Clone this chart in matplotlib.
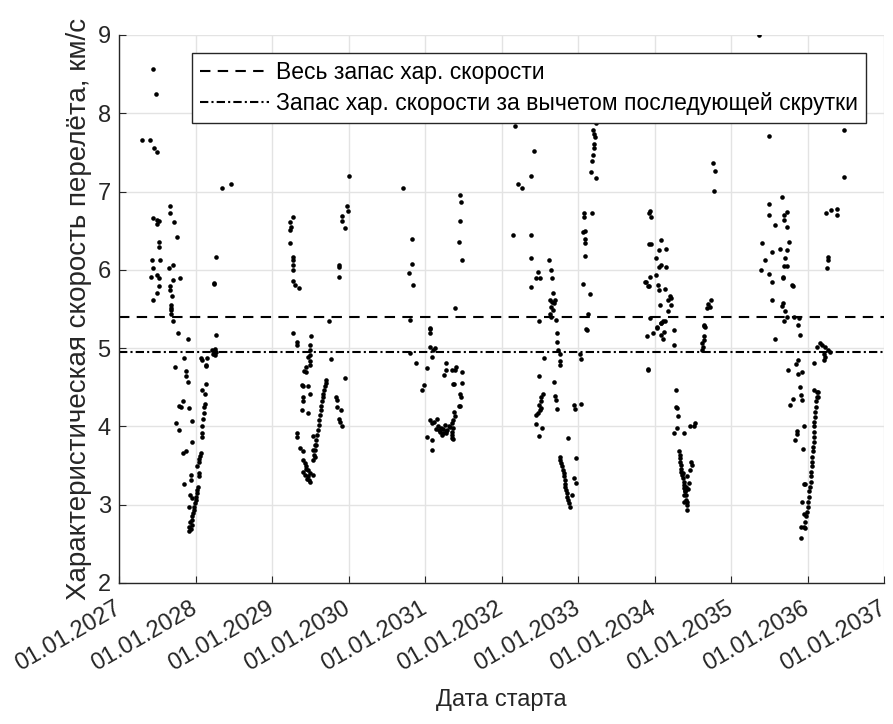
import matplotlib
matplotlib.use('Agg')
import matplotlib.pyplot as plt

plt.rcParams['font.family'] = ['Liberation Sans', 'DejaVu Sans']

# launch dates (decimal years) and characteristic velocity, km/s
x_2027 = [2027.45, 2027.48, 2027.30, 2027.41, 2027.46, 2027.50, 2028.35, 2028.46,
          2027.66, 2027.67, 2027.45, 2027.50, 2027.52, 2027.50, 2027.72, 2027.52, 2027.52,
          2027.76, 2027.43, 2027.54, 2027.44, 2027.65, 2027.70, 2027.42, 2027.49, 2027.52,
          2027.70, 2027.80, 2027.52, 2027.66, 2027.67, 2027.49, 2027.45, 2027.69, 2027.68,
          2027.68, 2027.68, 2027.68, 2027.70, 2028.24, 2028.24, 2028.27, 2027.77, 2027.90,
          2027.85, 2027.73, 2027.87, 2027.88, 2027.90, 2027.83, 2027.78, 2027.81, 2027.91,
          2027.74, 2027.78, 2027.95, 2027.95, 2027.84, 2027.87, 2027.85, 2027.94, 2027.94,
          2027.93, 2027.96, 2027.92]
y_2027 = [8.56, 8.24, 7.66, 7.66, 7.55, 7.50, 7.04, 7.10,
          6.81, 6.73, 6.66, 6.64, 6.62, 6.58, 6.61, 6.36, 6.29,
          6.42, 6.13, 6.12, 6.02, 6.02, 6.06, 5.91, 5.93, 5.90,
          5.87, 5.90, 5.79, 5.79, 5.74, 5.70, 5.62, 5.67, 5.55,
          5.51, 5.49, 5.44, 5.34, 5.83, 5.82, 6.17, 5.19, 5.12,
          4.87, 4.76, 4.71, 4.64, 4.57, 4.33, 4.26, 4.25, 4.24,
          4.04, 3.95, 4.07, 3.80, 3.66, 3.69, 3.27, 3.38, 3.32,
          3.12, 3.08, 2.97]

x_2028 = [2027.92, 2027.94, 2027.91, 2027.95, 2027.93, 2027.96, 2027.96, 2027.97, 2027.98,
          2027.98, 2027.99, 2028.00, 2028.01, 2028.02, 2028.02, 2028.03, 2028.05, 2028.05,
          2028.02, 2028.04, 2028.05, 2028.06, 2028.07, 2028.09, 2028.09, 2028.09, 2028.10,
          2028.11, 2028.11, 2028.12, 2028.13, 2028.14, 2028.08, 2028.14, 2028.14, 2028.07,
          2028.08, 2028.15, 2028.22, 2028.23, 2028.24, 2028.26, 2028.27, 2028.26, 2028.27]
y_2028 = [2.67, 2.69, 2.72, 2.74, 2.78, 2.80, 2.85, 2.89, 2.93,
          2.97, 3.02, 3.06, 3.10, 3.15, 3.19, 3.22, 3.36, 3.41,
          3.49, 3.54, 3.58, 3.62, 3.66, 3.86, 3.92, 4.00, 4.09,
          4.17, 4.25, 4.29, 4.41, 4.54, 4.46, 4.77, 4.79, 4.87,
          4.85, 4.88, 4.98, 4.93, 4.96, 4.99, 4.95, 4.91, 5.17]

x_2029 = [2029.27, 2029.24, 2029.25, 2029.24, 2029.24, 2029.27, 2029.27, 2029.27, 2029.27,
          2029.28, 2029.30, 2029.35, 2029.28, 2029.32, 2029.33, 2029.51, 2029.50, 2029.49,
          2029.50, 2029.47, 2029.49, 2029.50, 2029.45, 2029.42, 2029.44, 2029.74, 2029.77,
          2029.96, 2029.39, 2029.41, 2029.47, 2029.40, 2029.40, 2029.50, 2029.39, 2029.47,
          2029.32, 2029.32, 2029.36, 2029.41, 2029.53, 2029.56, 2029.54, 2029.56, 2029.41,
          2029.43, 2029.45, 2029.41, 2029.50, 2029.47, 2029.54, 2029.49, 2029.44, 2029.46,
          2029.48, 2029.43, 2029.47,
          2029.54, 2029.55, 2029.56, 2029.57, 2029.58, 2029.59, 2029.60, 2029.61, 2029.62,
          2029.63, 2029.64, 2029.64, 2029.65, 2029.66, 2029.67, 2029.68, 2029.69, 2029.70,
          2029.71, 2029.84, 2029.85, 2029.85, 2029.90, 2029.87, 2029.89, 2029.91, 2030.01,
          2029.98, 2029.99, 2029.91, 2029.91, 2029.95, 2029.88, 2029.88, 2029.87]
y_2029 = [6.68, 6.61, 6.55, 6.51, 6.34, 6.17, 6.12, 6.06, 6.00,
          5.86, 5.81, 5.77, 5.19, 5.08, 5.04, 5.15, 5.04, 4.98,
          4.91, 4.89, 4.83, 4.78, 4.76, 4.71, 4.70, 5.34, 4.86,
          4.62, 4.53, 4.51, 4.52, 4.37, 4.32, 4.41, 4.21, 4.17,
          3.91, 3.87, 3.73, 3.69, 3.88, 3.76, 3.70, 3.61, 3.57,
          3.53, 3.49, 3.42, 3.40, 3.36, 3.38, 3.29, 3.45, 3.33,
          3.31, 3.38, 3.44,
          3.57, 3.63, 3.70, 3.76, 3.83, 3.89, 3.95, 4.02, 4.08,
          4.15, 4.21, 4.26, 4.32, 4.37, 4.42, 4.46, 4.51, 4.55,
          4.59, 4.38, 4.34, 4.25, 4.21, 4.10, 4.06, 4.00, 7.20,
          6.82, 6.75, 6.69, 6.62, 6.54, 6.06, 6.04, 5.91]

x_2031 = [2030.71, 2030.83, 2030.83, 2030.79, 2030.84, 2031.46, 2031.47, 2031.46, 2031.45,
          2031.48, 2031.39, 2030.80, 2031.07, 2031.06, 2031.06, 2031.07, 2031.10, 2031.13,
          2031.09, 2030.80, 2030.88, 2031.02, 2030.98, 2030.96, 2031.27, 2031.28, 2031.35,
          2031.41, 2031.25, 2031.37, 2031.45, 2031.07, 2031.09, 2031.15, 2031.17, 2031.20,
          2031.24, 2031.26, 2031.33, 2031.37, 2031.35, 2031.22, 2031.02, 2031.09, 2031.09,
          2031.28, 2031.18, 2031.21, 2031.29, 2031.31, 2031.24, 2031.14, 2031.12, 2031.27,
          2031.39, 2031.48, 2031.38, 2031.48, 2031.46, 2031.47, 2031.46, 2031.38, 2031.39,
          2031.35, 2031.37, 2031.35, 2031.36, 2031.35]
y_2031 = [7.05, 6.39, 6.07, 5.96, 5.81, 6.96, 6.86, 6.62, 6.35,
          6.13, 5.51, 5.36, 5.26, 5.25, 5.19, 5.02, 4.98, 5.00,
          4.89, 4.94, 4.81, 4.74, 4.53, 4.47, 4.81, 4.72, 4.72,
          4.76, 4.66, 4.54, 4.26, 4.08, 4.04, 4.10, 4.00, 3.93,
          3.97, 4.02, 3.99, 4.08, 3.85, 3.89, 3.87, 3.83, 3.70,
          3.91, 3.95, 3.98, 3.96, 4.01, 3.92, 3.97, 4.05, 3.94,
          4.72, 4.70, 4.54, 4.56, 4.42, 4.38, 4.26, 4.19, 4.13,
          4.04, 3.98, 3.93, 3.84, 3.89]

x_2032 = [2032.18, 2032.42, 2032.39, 2032.22, 2032.27, 2032.15, 2032.38, 2032.39, 2032.47,
          2032.45, 2032.50, 2032.39, 2032.62, 2032.65, 2032.66, 2032.67, 2032.63, 2032.66,
          2032.68, 2032.70, 2032.65, 2032.67, 2032.63, 2032.64, 2032.71, 2032.49, 2032.73,
          2032.73, 2032.74, 2032.76, 2032.76, 2032.76, 2033.13, 2033.12, 2033.03, 2033.04,
          2032.56, 2032.49, 2032.68, 2032.54, 2032.52, 2032.51, 2032.49, 2032.52, 2032.45,
          2032.48, 2032.50, 2032.70, 2032.71, 2032.73, 2032.45, 2032.53, 2032.49, 2032.95,
          2033.04, 2032.96, 2032.87, 2032.97, 2032.95, 2032.97, 2032.92,
          2032.76, 2032.77, 2032.78, 2032.79, 2032.80, 2032.81, 2032.82, 2032.83, 2032.83,
          2032.83, 2032.84, 2032.85, 2032.86, 2032.87, 2032.88, 2032.89,
          2033.24, 2033.20, 2033.21, 2033.22, 2033.21, 2033.21, 2033.19, 2033.18, 2033.17,
          2033.24, 2033.08, 2033.08, 2033.18, 2033.09, 2033.07, 2033.09, 2033.09, 2033.09,
          2033.07, 2033.16, 2033.11]
y_2032 = [7.84, 7.52, 7.20, 7.09, 7.04, 6.44, 6.45, 6.15, 5.97,
          5.90, 5.89, 5.78, 6.13, 6.00, 5.89, 5.70, 5.61, 5.59,
          5.57, 5.61, 5.53, 5.49, 5.44, 5.40, 5.36, 5.34, 5.19,
          5.08, 4.98, 4.93, 4.83, 4.78, 5.44, 5.23, 4.93, 4.86,
          4.87, 4.64, 4.57, 4.41, 4.38, 4.32, 4.27, 4.23, 4.15,
          4.17, 4.21, 4.39, 4.34, 4.22, 4.03, 3.98, 3.88, 4.27,
          4.29, 4.22, 3.85, 3.60, 3.34, 3.28, 3.13,
          3.61, 3.57, 3.53, 3.49, 3.44, 3.40, 3.36, 3.32, 3.27,
          3.23, 3.19, 3.15, 3.10, 3.06, 3.02, 2.97,
          7.87, 7.79, 7.74, 7.70, 7.61, 7.55, 7.47, 7.39, 7.25,
          7.17, 6.73, 6.67, 6.73, 6.49, 6.48, 6.40, 6.34, 6.18,
          5.82, 5.69, 5.24]

x_2034 = [2033.93, 2033.93, 2033.88, 2033.93, 2033.94, 2033.96, 2034.09, 2033.95, 2034.06,
          2034.15, 2034.02, 2034.09, 2034.06, 2034.15, 2034.02, 2033.94, 2033.89, 2033.92,
          2034.05, 2034.06, 2034.14, 2034.20, 2034.22, 2034.18, 2034.07, 2034.22, 2034.17,
          2034.11, 2034.08, 2034.03, 2034.68, 2034.72, 2034.74, 2034.70, 2034.65, 2034.77,
          2034.79, 2034.78, 2033.94, 2034.03, 2034.09, 2034.14, 2034.12, 2034.11, 2034.08,
          2033.98, 2033.90, 2034.26, 2034.26, 2033.91, 2033.92, 2034.65, 2034.66, 2034.64,
          2034.64, 2034.62, 2034.63, 2034.62, 2034.28, 2034.28, 2034.29, 2034.30, 2034.29,
          2034.25, 2034.39, 2034.46, 2034.51, 2034.53,
          2034.32, 2034.33, 2034.33, 2034.33, 2034.34, 2034.34, 2034.35, 2034.36, 2034.37,
          2034.38, 2034.39, 2034.39, 2034.40, 2034.41, 2034.41, 2034.42, 2034.42,
          2034.48, 2034.49, 2034.46, 2034.45, 2034.41, 2034.40, 2034.39, 2034.42, 2034.37,
          2034.43, 2034.44, 2034.38]
y_2034 = [6.73, 6.33, 5.84, 5.79, 6.75, 6.67, 6.38, 6.33, 6.25,
          6.27, 6.15, 6.06, 6.03, 6.03, 5.93, 5.91, 5.84, 5.79,
          5.81, 5.74, 5.76, 5.66, 5.64, 5.61, 5.55, 5.55, 5.47,
          5.34, 5.32, 5.26, 5.51, 5.53, 5.61, 5.56, 5.28, 7.36,
          7.26, 7.01, 5.38, 5.27, 5.32, 5.34, 5.21, 5.12, 5.17,
          5.19, 5.15, 5.23, 5.04, 4.72, 4.73, 5.30, 5.27, 5.15,
          5.10, 5.06, 5.02, 4.98, 4.46, 4.25, 4.23, 4.13, 3.98,
          3.92, 3.92, 4.00, 4.00, 4.04,
          3.68, 3.63, 3.59, 3.55, 3.51, 3.46, 3.42, 3.38, 3.34,
          3.29, 3.25, 3.21, 3.17, 3.12, 3.06, 3.00, 2.93,
          3.55, 3.51, 3.44, 3.28, 3.23, 3.17, 3.04, 3.04, 3.40,
          3.36, 3.20, 3.12]

x_2036 = [2035.36, 2035.49, 2036.48, 2036.48, 2035.50, 2035.67, 2035.50, 2035.58, 2035.69,
          2035.73, 2035.69, 2035.73, 2035.40, 2035.54, 2035.64, 2035.73, 2035.76, 2035.44,
          2035.71, 2035.69, 2035.73, 2035.39, 2035.50, 2035.53, 2035.68, 2035.68, 2035.79,
          2035.81, 2035.53, 2035.68, 2035.66, 2035.70, 2035.69, 2035.73, 2035.89, 2035.88,
          2035.82, 2036.24, 2036.30, 2036.39, 2036.39, 2036.27, 2036.27, 2036.26, 2035.57,
          2035.75, 2035.85, 2035.87, 2035.88, 2035.93, 2035.90, 2035.92, 2035.93, 2035.81,
          2035.77, 2035.95, 2035.86, 2035.86, 2035.83, 2035.94, 2035.95, 2035.97, 2035.93,
          2035.95, 2035.92, 2035.97, 2035.91,
          2035.95, 2035.97, 2035.98, 2035.99, 2036.00, 2036.01, 2036.02, 2036.02, 2036.03,
          2036.04, 2036.05, 2036.05, 2036.06, 2036.06, 2036.06, 2036.07, 2036.07, 2036.08,
          2036.08, 2036.09, 2036.09, 2036.09, 2036.10, 2036.10, 2036.11, 2036.11, 2036.12,
          2036.12, 2036.08, 2036.13, 2036.13, 2036.09, 2036.12, 2036.16, 2036.19, 2036.23,
          2036.21, 2036.23, 2036.21, 2036.27, 2036.29, 2035.90]
y_2036 = [9.00, 7.71, 7.78, 7.19, 6.84, 6.93, 6.70, 6.57, 6.70,
          6.74, 6.64, 6.55, 6.34, 6.23, 6.26, 6.25, 6.35, 6.12,
          6.15, 6.05, 6.05, 6.00, 5.95, 5.85, 5.91, 5.89, 5.81,
          5.79, 5.61, 5.58, 5.54, 5.47, 5.34, 5.40, 5.39, 5.30,
          5.40, 6.73, 6.76, 6.78, 6.70, 6.17, 6.13, 6.02, 5.11,
          4.72, 4.80, 4.85, 4.67, 4.70, 4.50, 4.40, 4.34, 4.35,
          4.27, 4.00, 3.94, 3.90, 3.82, 3.71, 3.27, 3.26, 3.03,
          2.88, 2.72, 2.70, 2.57,
          2.72, 2.78, 2.85, 2.91, 2.97, 3.04, 3.10, 3.17, 3.23,
          3.29, 3.36, 3.42, 3.49, 3.55, 3.61, 3.68, 3.74, 3.80,
          3.87, 3.93, 4.00, 4.06, 4.12, 4.19, 4.25, 4.32, 4.38,
          4.44, 4.47, 4.44, 4.37, 4.81, 5.02, 5.06, 5.04, 5.02,
          4.93, 4.89, 4.85, 4.98, 4.95, 5.17]

dv_total = 5.4
dv_net = 4.95
years = list(range(2027, 2038))
y_ticks = [2, 3, 4, 5, 6, 7, 8, 9]

fig = plt.figure(figsize=(8.93, 7.24), dpi=100)
ax = fig.add_axes([0.1333, 0.1948, 0.8567, 0.7569])

for xs, ys in [(x_2027, y_2027), (x_2028, y_2028), (x_2029, y_2029), (x_2031, y_2031),
               (x_2032, y_2032), (x_2034, y_2034), (x_2036, y_2036)]:
    ax.plot(xs, ys, 'o', color='black', markersize=3.3, markeredgewidth=0)

ax.axhline(dv_total, color='black', lw=1.5, dashes=(5, 3.5),
           label='Весь запас хар. скорости')
ax.axhline(dv_net, color='black', lw=1.5, dashes=(4, 1.5, 1, 1.5),
           label='Запас хар. скорости за вычетом последующей скрутки')

ax.set_xlim(2027, 2037)
ax.set_ylim(2, 9)
ax.set_xticks(years)
ax.set_xticklabels(['01.01.%d' % y for y in years], rotation=30, ha='right', va='center',
                   rotation_mode='anchor', fontsize=17)
ax.set_yticks(y_ticks)
ax.tick_params(axis='y', labelsize=17, pad=6)
ax.tick_params(axis='x', pad=17)
ax.tick_params(direction='in', length=5, color='#262626', labelcolor='#262626')
ax.grid(True, color='#e3e3e3', lw=1)
ax.set_axisbelow(True)
for s in ['top', 'right']:
    ax.spines[s].set_visible(False)
for s in ['left', 'bottom']:
    ax.spines[s].set_color('#262626')
    ax.spines[s].set_linewidth(1)

ax.set_xlabel('Дата старта', fontsize=17, color='#262626', labelpad=10)
ax.set_ylabel('Характеристическая скорость перелёта, км/с', fontsize=20, color='#262626',
              labelpad=4)

leg = ax.legend(loc='upper right', bbox_to_anchor=(0.976, 0.968), fontsize=16.5,
                fancybox=False, framealpha=1, edgecolor='#262626', handlelength=3.0,
                borderpad=0.35, labelspacing=0.35, handletextpad=0.3, borderaxespad=0)
leg.get_frame().set_linewidth(1)

fig.savefig('out.png', dpi=100)
